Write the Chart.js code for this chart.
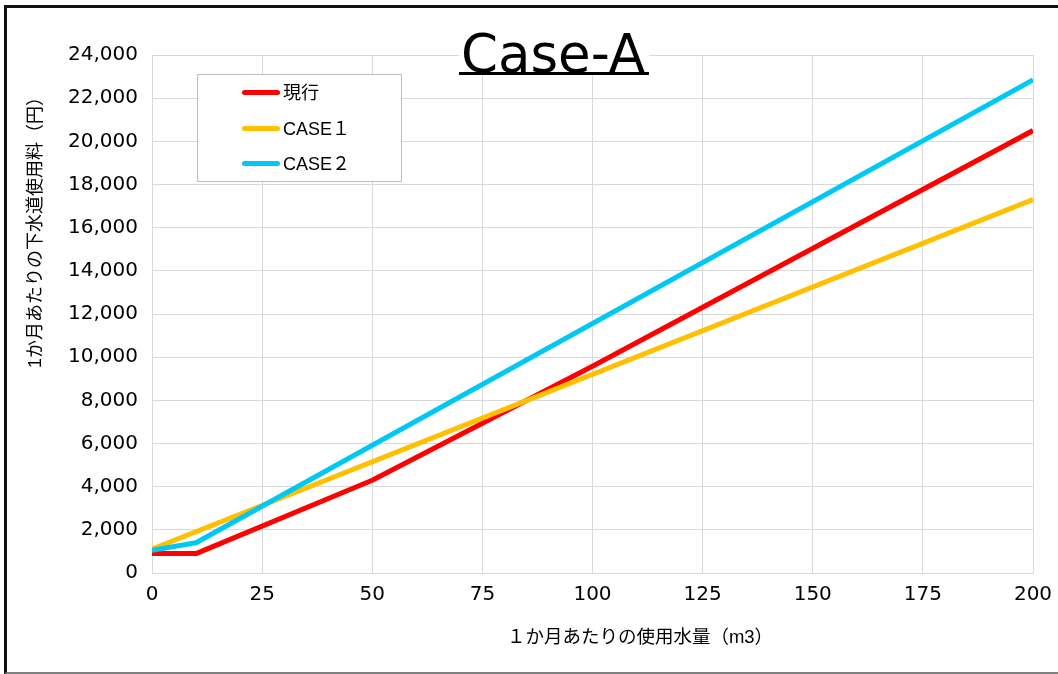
<!DOCTYPE html>
<html><head><meta charset="utf-8">
<script src="https://cdn.jsdelivr.net/npm/chart.js@4.4.1/dist/chart.umd.min.js"></script>
<style>
html,body{margin:0;padding:0;background:#fff;}
#wrap{position:relative;width:1058px;height:674px;overflow:hidden;background:#fff;}
#c{position:absolute;left:0;top:0;}
.frame{position:absolute;left:4px;top:5px;width:1200px;height:664px;border-top:3px solid #111;border-left:3px solid #111;border-bottom:2px solid #808080;pointer-events:none;}
.titlebox{position:absolute;left:459px;top:27px;width:190px;height:45px;background:#fff;border-bottom:3px solid #000;}
.titletext{position:absolute;left:2px;top:0;font:53px/53px "DejaVu Sans",sans-serif;color:#000;white-space:nowrap;}
.legend{position:absolute;left:197px;top:74px;width:203px;height:106px;border:1px solid #bfbfbf;background:#fff;}
.lrow{position:absolute;left:0;height:20px;width:200px;}
.lline{position:absolute;left:44px;top:7px;width:38px;height:5px;border-radius:3px;}
.ltext{position:absolute;left:85px;top:0;font:18px/20px "Liberation Sans","Noto Sans CJK JP",sans-serif;color:#000;white-space:nowrap;}
.ytitle{position:absolute;left:35px;top:228px;transform:translate(-50%,-50%) rotate(-90deg);font:18px/20px "Liberation Sans","Noto Sans CJK JP",sans-serif;color:#000;white-space:nowrap;}
.xtitle{position:absolute;left:640px;top:637px;transform:translate(-50%,-50%);font:18.5px/20px "Liberation Sans","Noto Sans CJK JP",sans-serif;color:#000;white-space:nowrap;}
</style></head>
<body>
<div id="wrap">
<canvas id="c" width="1058" height="674"></canvas>
<div class="frame"></div>
</div>
<script>
// ---- data ----
const chartTitle = 'Case-A';
const xAxisTitle = '１か月あたりの使用水量（m3）';
const yAxisTitle = '1か月あたりの下水道使用料（円）';
const seriesNames = ['現行', 'CASE１', 'CASE２'];
const seriesColors = ['#FF0000', '#FFC000', '#00C8F5'];
const usageGenko = [0, 10, 50, 100, 200];
const feeGenko   = [900, 900, 4300, 9580, 20500];
const usageCase1 = [0, 200];
const feeCase1   = [1100, 17300];
const usageCase2 = [0, 10, 200];
const feeCase2   = [1050, 1400, 22850];
const xMin = 0, xMax = 200, xStep = 25;
const yMin = 0, yMax = 24000, yStep = 2000;

function pts(xs, ys){ return xs.map((x,i)=>({x:x, y:ys[i]})); }
const seriesData = [pts(usageGenko, feeGenko), pts(usageCase1, feeCase1), pts(usageCase2, feeCase2)];

const wrap = document.getElementById('wrap');
// title
const tb = document.createElement('div'); tb.className='titlebox';
const tt = document.createElement('div'); tt.className='titletext'; tt.textContent = chartTitle;
tb.appendChild(tt); wrap.appendChild(tb);
// legend
const lg = document.createElement('div'); lg.className='legend';
const rowTops = [8, 44, 79];
seriesNames.forEach((n,i)=>{
  const r = document.createElement('div'); r.className='lrow'; r.style.top = rowTops[i]+'px';
  const l = document.createElement('div'); l.className='lline'; l.style.background = seriesColors[i];
  const t = document.createElement('div'); t.className='ltext'; t.textContent = n;
  r.appendChild(l); r.appendChild(t); lg.appendChild(r);
});
wrap.appendChild(lg);
// axis titles
const yt = document.createElement('div'); yt.className='ytitle'; yt.textContent = yAxisTitle; wrap.appendChild(yt);
const xt = document.createElement('div'); xt.className='xtitle'; xt.textContent = xAxisTitle; wrap.appendChild(xt);

const tickFont = {family:'"DejaVu Sans", sans-serif', size:20};
new Chart(document.getElementById('c'), {
  type:'line',
  data:{
    datasets: seriesNames.map((n,i)=>({
      label:n, data:seriesData[i], borderColor:seriesColors[i], backgroundColor:seriesColors[i],
      borderWidth:5, pointRadius:0, tension:0, fill:false, borderJoinStyle:'round',
      order: 2 - i
    }))
  },
  options:{
    responsive:false, animation:false, devicePixelRatio:1,
    layout:{padding:{left:0, right:25, top:55, bottom:61}},
    plugins:{legend:{display:false}, tooltip:{enabled:false}, title:{display:false}},
    scales:{
      x:{type:'linear', min:xMin, max:xMax,
         ticks:{stepSize:xStep, font:tickFont, color:'#000', padding:10, maxRotation:0},
         grid:{color:'#d9d9d9', drawTicks:false, lineWidth:1},
         border:{color:'#d9d9d9'},
         afterFit:(s)=>{s.height=40; s.paddingLeft=0; s.paddingRight=0;}},
      y:{type:'linear', min:yMin, max:yMax,
         ticks:{stepSize:yStep, font:tickFont, color:'#000', padding:14,
                callback:(v)=>v.toLocaleString('en-US')},
         grid:{color:'#d9d9d9', drawTicks:false, lineWidth:1},
         border:{color:'#d9d9d9'},
         afterFit:(s)=>{s.width=152; s.paddingTop=0; s.paddingBottom=0;}}
    }
  }
});
</script>
</body></html>
